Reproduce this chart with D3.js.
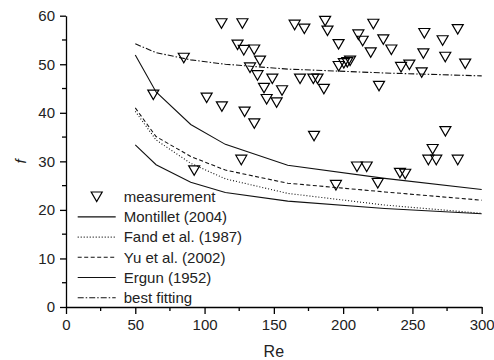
<!DOCTYPE html>
<html>
<head>
<meta charset="utf-8">
<style>
  body { margin: 0; background: #fff; }
  svg text { font-family: Arial, "Liberation Sans", sans-serif; fill: #222; }
  .axis path, .axis line { stroke: #000; stroke-width: 1.3px; }
</style>
</head>
<body>
<svg width="494" height="360"></svg>
<script src="https://cdn.jsdelivr.net/npm/d3@7"></script>
<script>

    // measured points, Re and f
    var measRe = [63, 85, 92.5, 101.5, 112.5, 112.2, 127.3, 123.8, 128.3, 135.8,
                  140, 132.8, 138.2, 148.9, 142.9, 155.9, 144.8, 152, 128.9, 135.9,
                  126.5, 165, 172, 187, 188.7, 196.7, 168.9, 178.5, 181.5, 186.1,
                  196.8, 200.5, 203, 205, 179, 221.8, 211, 214.1, 229, 234.8,
                  219.9, 241.8, 247.8, 256.7, 258.6, 271.8, 282.7, 257.9, 273.7, 288.1,
                  225.9, 273.8, 264.6, 261.5, 267.2, 282.7, 210, 217, 241, 244.8,
                  194.8, 225];
    var measF  = [43.7, 51.3, 28.1, 43.1, 41.3, 58.4, 58.4, 54.0, 52.9, 53.0,
                  50.7, 49.3, 47.7, 47.0, 45.1, 44.6, 42.8, 42.1, 40.2, 37.8,
                  30.3, 58.1, 57.3, 58.9, 56.9, 54.1, 47.0, 47.0, 47.0, 44.9,
                  49.6, 50.2, 50.4, 50.7, 35.2, 58.3, 56.1, 54.8, 55.1, 53.0,
                  52.4, 49.4, 49.9, 48.3, 56.4, 54.9, 57.2, 52.2, 51.5, 50.1,
                  45.5, 36.2, 32.5, 30.3, 30.3, 30.3, 28.9, 28.9, 27.6, 27.4,
                  25.1, 25.5];

    // correlation curves
    var curveRe   = [50, 65, 90, 115, 160, 230, 300];
    var montillet = [51.9, 44.3, 37.6, 33.5, 29.2, 26.5, 24.2];
    var fand      = [40.3, 34.4, 29.6, 26.4, 23.4, 21.0, 19.3];
    var yu        = [41.0, 35.1, 31.0, 28.2, 25.5, 23.7, 22.0];
    var ergun     = [33.4, 29.3, 25.7, 23.6, 21.8, 20.3, 19.2];
    var bestFit   = [54.2, 52.4, 50.9, 50.0, 49.0, 48.2, 47.6];

    var xTicks = [0, 50, 100, 150, 200, 250, 300];
    var yTicks = [0, 10, 20, 30, 40, 50, 60];

    var series = [
        {name: "Montillet (2004)",   values: montillet, dash: null},
        {name: "Fand et al. (1987)", values: fand,      dash: "1,2"},
        {name: "Yu et al. (2002)",   values: yu,        dash: "4,2.5"},
        {name: "Ergun (1952)",       values: ergun,     dash: null},
        {name: "best fitting",       values: bestFit,   dash: "6,2,1.5,2"}
    ];

    var svg = d3.select("svg"),
        margin = {top: 15.7, right: 12.3, bottom: 53, left: 66},
        width = +svg.attr("width") - margin.left - margin.right,
        height = +svg.attr("height") - margin.top - margin.bottom,
        g = svg.append("g").attr("transform", "translate(" + margin.left + "," + margin.top + ")");

    var x = d3.scaleLinear().domain([0, 300]).range([0, width]);
    var y = d3.scaleLinear().domain([0, 60]).range([height, 0]);

    // curves
    var line = d3.line()
        .x(function(d) { return x(d[0]); })
        .y(function(d) { return y(d[1]); });

    g.selectAll(".curve")
        .data(series)
        .enter().append("path")
          .attr("class", "curve")
          .attr("fill", "none")
          .attr("stroke", "#111")
          .attr("stroke-width", 1.1)
          .attr("stroke-dasharray", function(d) { return d.dash; })
          .attr("d", function(d) { return line(d.values.map(function(v, i) { return [curveRe[i], v]; })); });

    // measurement triangles
    var tri = "M-5.5,-4.7L5.5,-4.7L0,4.8Z";
    g.selectAll(".pt")
        .data(measRe.map(function(r, i) { return [r, measF[i]]; }))
        .enter().append("path")
          .attr("class", "pt")
          .attr("d", tri)
          .attr("fill", "none")
          .attr("stroke", "#000")
          .attr("stroke-width", 1.2)
          .attr("transform", function(d) { return "translate(" + x(d[0]) + "," + y(d[1]) + ")"; });

    // axes
    var xMinor = d3.range(25, 300, 50), yMinor = d3.range(5, 60, 10);

    var gx = g.append("g")
        .attr("class", "axis")
        .attr("transform", "translate(0," + height + ")")
        .call(d3.axisBottom(x).tickValues(xTicks).tickSize(7).tickSizeOuter(0).tickPadding(5));
    gx.selectAll(".minor").data(xMinor).enter().append("line")
        .attr("stroke", "#000").attr("stroke-width", 1.3)
        .attr("x1", x).attr("x2", x).attr("y1", 0).attr("y2", 4);

    var gy = g.append("g")
        .attr("class", "axis")
        .call(d3.axisLeft(y).tickValues(yTicks).tickSize(6).tickSizeOuter(0).tickPadding(5));
    gy.selectAll(".minor").data(yMinor).enter().append("line")
        .attr("stroke", "#000").attr("stroke-width", 1.3)
        .attr("y1", y).attr("y2", y).attr("x1", 0).attr("x2", -4);

    svg.selectAll(".axis text").attr("font-size", 15).style("fill", "#222");
    svg.selectAll(".axis .domain").attr("stroke-width", 1.3);

    // axis titles
    svg.append("text")
        .attr("x", margin.left + x(150))
        .attr("y", 357)
        .attr("text-anchor", "middle")
        .attr("font-size", 16)
        .text("Re");

    svg.append("text")
        .attr("transform", "translate(26," + (margin.top + height / 2) + ") rotate(-90)")
        .attr("text-anchor", "middle")
        .attr("font-size", 15)
        .attr("font-style", "italic")
        .text("f");

    // legend
    var legend = svg.append("g").attr("transform", "translate(77.7,196.7)");
    var rowH = 20.2;
    var items = [{name: "measurement", marker: true}].concat(series);

    var rows = legend.selectAll(".row")
        .data(items)
        .enter().append("g")
          .attr("transform", function(d, i) { return "translate(0," + (i * rowH) + ")"; });

    rows.filter(function(d) { return d.marker; }).append("path")
        .attr("d", tri)
        .attr("fill", "none")
        .attr("stroke", "#000")
        .attr("stroke-width", 1.2)
        .attr("transform", "translate(19,0)");

    rows.filter(function(d) { return !d.marker; }).append("line")
        .attr("x1", 0).attr("x2", 38)
        .attr("stroke", "#111")
        .attr("stroke-width", 1.1)
        .attr("stroke-dasharray", function(d) { return d.dash; });

    rows.append("text")
        .attr("x", 46)
        .attr("dy", "0.35em")
        .attr("font-size", 15)
        .text(function(d) { return d.name; });

</script>
</body>
</html>
